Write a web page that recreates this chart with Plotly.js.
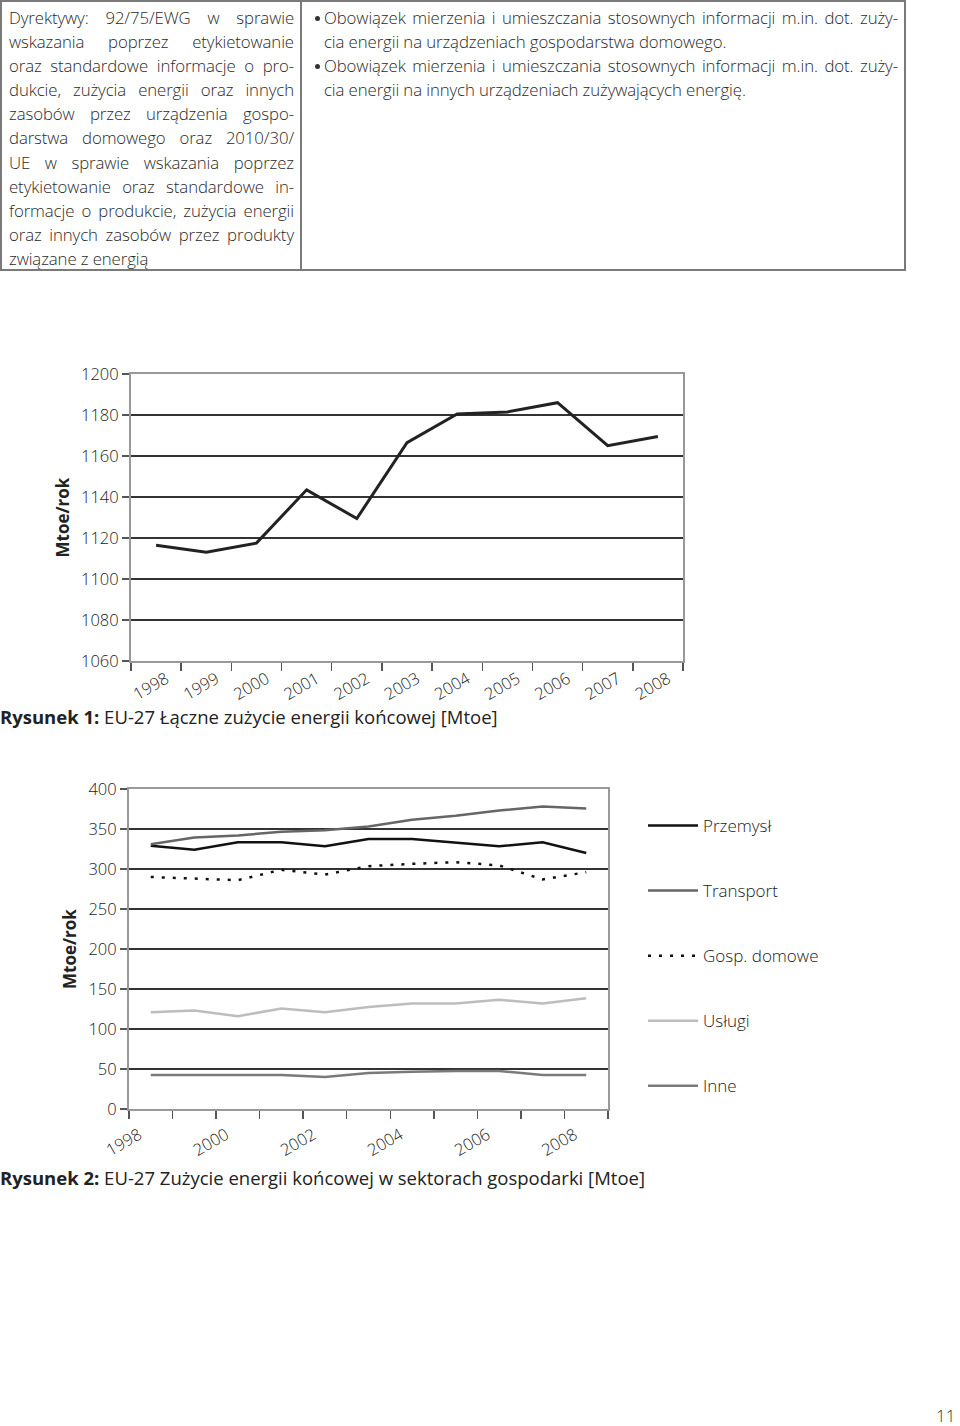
<!DOCTYPE html>
<html>
<head>
<meta charset="utf-8">
<script src="https://cdn.plot.ly/plotly-3.0.1.min.js"></script>
<style>
  html, body { margin:0; padding:0; background:#fff; }
  body { width:960px; height:1426px; position:relative; overflow:hidden; font-family:"Open Sans", sans-serif; color:#333; }
  #tbl { position:absolute; left:0; top:0; width:906px; height:271px; border:2px solid #7a7a7a; box-sizing:border-box; }
  #colL { position:absolute; left:0; top:0; width:300px; height:100%; border-right:2px solid #7a7a7a; box-sizing:border-box; padding:4px 6px 0 7px; }
  #colR { position:absolute; left:300px; top:0; right:0; height:100%; padding:4px 6px 0 22px; box-sizing:border-box; }
  .ln { font-size:16.8px; font-weight:300; line-height:24.1px; height:24.1px; white-space:nowrap; letter-spacing:-0.1px; color:#2a2a2a; }
  .j { text-align:justify; text-align-last:justify; }
  .bl { position:relative; }
  .bl::before { content:""; position:absolute; left:-9px; top:10px; width:5px; height:5px; border-radius:50%; background:#333; }
  .cap { position:absolute; left:0; font-size:18.5px; line-height:24px; white-space:nowrap; color:#222; }
  .cap b { font-weight:700; }
  #pg { position:absolute; left:936px; top:1404px; font-size:17px; font-weight:300; color:#333; }
  #c1 { position:absolute; left:0; top:340px; }
  #c2 { position:absolute; left:0; top:760px; }
</style>
</head>
<body>
<div id="tbl">
  <div id="colL"></div>
  <div id="colR"></div>
</div>
<div id="c1"></div>
<div class="cap" style="top:705px"><b>Rysunek 1:</b> EU-27 Łączne zużycie energii końcowej [Mtoe]</div>
<div id="c2"></div>
<div class="cap" style="top:1166px"><b>Rysunek 2:</b> EU-27 Zużycie energii końcowej w sektorach gospodarki [Mtoe]</div>
<div id="pg">11</div>
<script>
// ---- table text ----
const leftLines = [
  "Dyrektywy: 92/75/EWG w sprawie",
  "wskazania poprzez etykietowanie",
  "oraz standardowe informacje o pro-",
  "dukcie, zużycia energii oraz innych",
  "zasobów przez urządzenia gospo-",
  "darstwa domowego oraz 2010/30/",
  "UE w sprawie wskazania poprzez",
  "etykietowanie oraz standardowe in-",
  "formacje o produkcie, zużycia energii",
  "oraz innych zasobów przez produkty",
  "związane z energią"
];
const rightItems = [
  ["Obowiązek mierzenia i umieszczania stosownych informacji m.in. dot. zuży-",
   "cia energii na urządzeniach gospodarstwa domowego."],
  ["Obowiązek mierzenia i umieszczania stosownych informacji m.in. dot. zuży-",
   "cia energii na innych urządzeniach zużywających energię."]
];

// ---- chart 1 data ----
const years1 = ["1998","1999","2000","2001","2002","2003","2004","2005","2006","2007","2008"];
const total = [1116.5, 1113, 1117.5, 1143.5, 1129.5, 1166.5, 1180.5, 1181.5, 1186, 1165, 1169.5];

// ---- chart 2 data ----
const years2 = [1998,1999,2000,2001,2002,2003,2004,2005,2006,2007,2008];
const seriesNames = ["Przemysł","Transport","Gosp. domowe","Usługi","Inne"];
const przemysl = [329, 324, 333.5, 333.5, 328.5, 337.5, 337.5, 333, 328.5, 333.5, 320];
const transport = [331, 339.5, 342, 346.5, 348.5, 353, 361.5, 366.5, 373, 378, 375.5];
const gospDomowe = [290, 288, 286, 299, 293, 303.5, 306.5, 308.5, 304.5, 287, 296];
const uslugi = [121, 123, 116, 125.5, 121, 127.5, 132, 132, 136.5, 132, 138.5];
const inne = [42.5, 42.5, 42.5, 42.5, 40, 45, 46.5, 47.5, 47.5, 42.5, 42.5];
const xLabels2 = ["1998","2000","2002","2004","2006","2008"];

// build table
const L = document.getElementById('colL');
leftLines.forEach((t,i)=>{
  const d=document.createElement('div');
  d.className='ln'+(i<leftLines.length-1?' j':'');
  d.textContent=t; L.appendChild(d);
});
const R = document.getElementById('colR');
rightItems.forEach(item=>{
  item.forEach((t,i)=>{
    const d=document.createElement('div');
    d.className='ln'+(i===0?' j bl':'');
    d.textContent=t; R.appendChild(d);
  });
});

const FONT = "Open Sans, sans-serif";
const tickFont = {family:FONT, size:16.5, color:'#222', weight:300};

// chart 1
Plotly.newPlot('c1', [{
  x: years1, y: total, type:'scatter', mode:'lines',
  line:{color:'#222', width:3}, showlegend:false, hoverinfo:'skip'
}], {
  width:720, height:390,
  margin:{l:131, r:37, t:34, b:69},
  paper_bgcolor:'rgba(0,0,0,0)', plot_bgcolor:'rgba(0,0,0,0)',
  font:{family:FONT, color:'#333'},
  xaxis:{
    type:'category', tickson:'boundaries', ticks:'outside', ticklen:8, tickwidth:1.5, tickcolor:'#555',
    tickangle:-30, tickfont:tickFont, showgrid:false, zeroline:false,
    showline:true, linecolor:'#999', linewidth:2, mirror:true, range:[-0.5,10.5], ticklabelshift:10
  },
  yaxis:{
    range:[1060,1200], dtick:20, ticks:'outside', ticklen:7, tickwidth:1.5, tickcolor:'#555',
    tickfont:tickFont, showgrid:true, gridcolor:'#333', gridwidth:1.5, zeroline:false,
    showline:true, linecolor:'#999', linewidth:2, mirror:true,
    title:{text:'<b>Mtoe/rok</b>', font:{family:FONT, size:17, color:'#222'}, standoff:7}
  }
}, {staticPlot:true});

// chart 2
const boundaries = years2.map(y=>y-0.5).concat([years2[years2.length-1]+0.5]);
const ticktext2 = boundaries.map(b=>{ const s=String(b+0.5); return xLabels2.includes(s)?s:''; });
const vals = [przemysl, transport, gospDomowe, uslugi, inne];
const styles = [
  {color:'#111', width:2.5},
  {color:'#666', width:2.5},
  {color:'#111', width:2.5, dash:'3px,8px'},
  {color:'#bdbdbd', width:2.5},
  {color:'#7a7a7a', width:2.5}
];
const traces2 = vals.map((v,i)=>({
  x: years2, y: v, type:'scatter', mode:'lines', name: seriesNames[i],
  legendgroup:'g'+i, line: styles[i], hoverinfo:'skip'
}));
Plotly.newPlot('c2', traces2, {
  width:960, height:440,
  margin:{l:129, r:352, t:29, b:91},
  paper_bgcolor:'rgba(0,0,0,0)', plot_bgcolor:'rgba(0,0,0,0)',
  font:{family:FONT, color:'#333'},
  showlegend:true,
  legend:{x:(643-129)/479, xanchor:'left', y:(1111-808)/322, yanchor:'top',
    font:{family:FONT, size:17, color:'#222', weight:300}, itemwidth:50, tracegroupgap:40, traceorder:'grouped',
    bgcolor:'rgba(0,0,0,0)'},
  xaxis:{
    range:[1997.5, 2008.5], tickmode:'array', tickvals:boundaries, ticktext:ticktext2,
    ticks:'outside', ticklen:8, tickwidth:1.5, tickcolor:'#555', tickangle:-30, tickfont:tickFont,
    showgrid:false, zeroline:false, showline:true, linecolor:'#999', linewidth:2, mirror:true, ticklabelshift:10
  },
  yaxis:{
    range:[0,400], dtick:50, ticks:'outside', ticklen:7, tickwidth:1.5, tickcolor:'#555',
    tickfont:tickFont, showgrid:true, gridcolor:'#333', gridwidth:1.5, zeroline:false,
    showline:true, linecolor:'#999', linewidth:2, mirror:true,
    title:{text:'<b>Mtoe/rok</b>', font:{family:FONT, size:17, color:'#222'}, standoff:7}
  }
}, {staticPlot:true});
</script>
</body>
</html>
